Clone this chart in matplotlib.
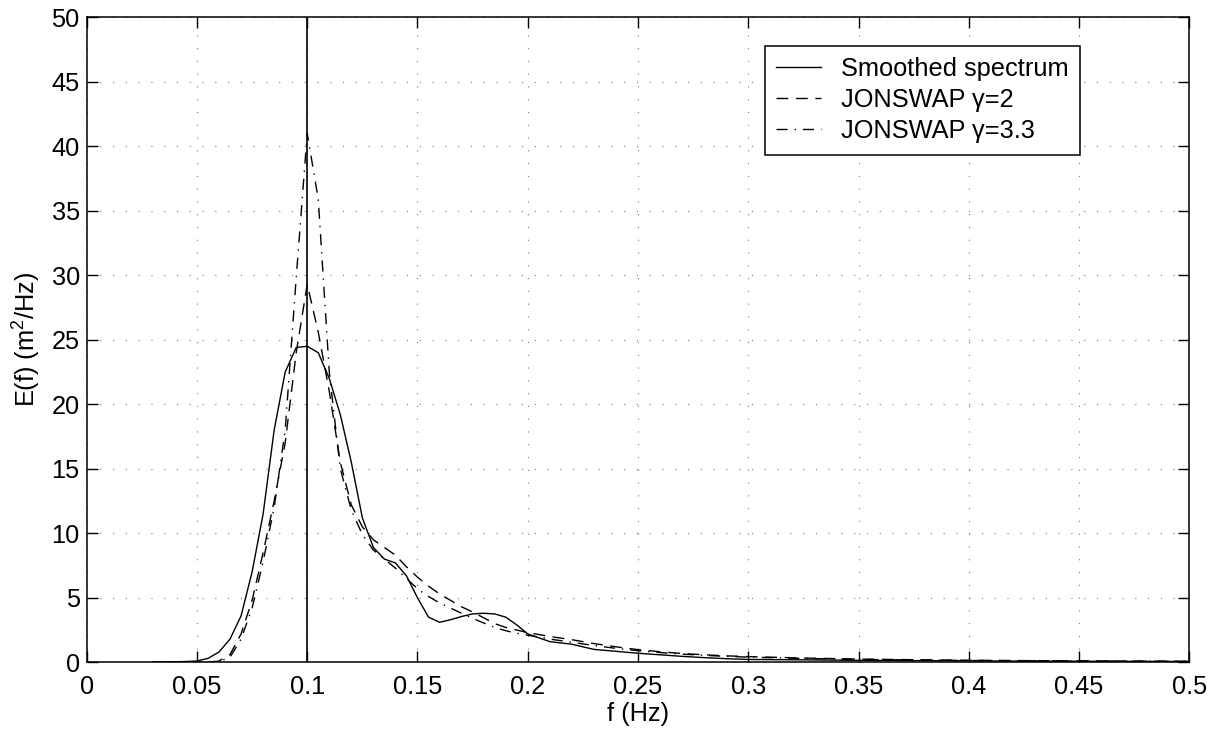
import matplotlib
matplotlib.use("Agg")
import matplotlib.pyplot as plt

# frequency grid (Hz)
freqs = [0.03, 0.035, 0.04, 0.045, 0.05, 0.055, 0.06, 0.065, 0.07, 0.075,
         0.08, 0.085, 0.09, 0.095, 0.1, 0.105, 0.11, 0.115, 0.12, 0.125,
         0.13, 0.135, 0.14, 0.145, 0.15, 0.155, 0.16, 0.165, 0.17, 0.175,
         0.18, 0.185, 0.19, 0.195, 0.2, 0.21, 0.22, 0.23, 0.24, 0.25,
         0.26, 0.27, 0.28, 0.29, 0.3, 0.325, 0.35, 0.375, 0.4, 0.425,
         0.45, 0.475, 0.5]

# smoothed measured spectrum (m^2/Hz)
smoothed = [0.02, 0.03, 0.04, 0.06, 0.1, 0.3, 0.8, 1.8, 3.6, 7.0,
            11.5, 18.0, 22.5, 24.4, 24.5, 24.0, 22.0, 19.2, 15.5, 11.2,
            8.9, 8.0, 7.7, 6.7, 5.0, 3.5, 3.1, 3.3, 3.55, 3.75,
            3.8, 3.75, 3.5, 2.9, 2.2, 1.6, 1.4, 1.0, 0.85, 0.7,
            0.58, 0.46, 0.36, 0.28, 0.22, 0.19, 0.15, 0.13, 0.11, 0.09,
            0.08, 0.07, 0.06]

# JONSWAP gamma = 2
jonswap_g2 = [0.0, 0.0, 0.0, 0.0, 0.0, 0.01, 0.1, 0.6, 2.2, 4.8,
              8.5, 12.5, 17.0, 24.0, 29.3, 25.6, 21.0, 15.5, 12.2, 10.5,
              9.5, 8.9, 8.3, 7.4, 6.6, 5.9, 5.3, 4.8, 4.3, 3.9,
              3.45, 3.0, 2.7, 2.5, 2.3, 2.0, 1.75, 1.45, 1.2, 0.98,
              0.82, 0.68, 0.58, 0.5, 0.44, 0.33, 0.25, 0.2, 0.16, 0.13,
              0.11, 0.09, 0.08]

# JONSWAP gamma = 3.3
jonswap_g33 = [0.0, 0.0, 0.0, 0.0, 0.0, 0.005, 0.05, 0.4, 1.8, 4.2,
               7.8, 12.0, 18.0, 29.8, 41.0, 35.9, 22.5, 15.0, 11.8, 9.9,
               8.7, 8.0, 7.3, 6.5, 5.7, 5.1, 4.6, 4.2, 3.8, 3.4,
               3.05, 2.7, 2.45, 2.25, 2.1, 1.8, 1.55, 1.3, 1.08, 0.9,
               0.75, 0.63, 0.54, 0.46, 0.4, 0.3, 0.22, 0.18, 0.14, 0.12,
               0.1, 0.08, 0.07]

peak_freq = 0.1
xticks = [0, 0.05, 0.1, 0.15, 0.2, 0.25, 0.3, 0.35, 0.4, 0.45, 0.5]
xticklabels = ["0", "0.05", "0.1", "0.15", "0.2", "0.25", "0.3", "0.35", "0.4", "0.45", "0.5"]
yticks = [0, 5, 10, 15, 20, 25, 30, 35, 40, 45, 50]


def plot_spectra():
    plt.rcParams["font.family"] = ["Liberation Sans", "DejaVu Sans"]
    plt.rcParams["font.size"] = 18.3
    plt.rcParams["mathtext.fontset"] = "custom"
    plt.rcParams["mathtext.rm"] = "Liberation Sans"

    fig = plt.figure(figsize=(12.11, 7.31), dpi=100)
    ax = fig.add_axes([0.0716, 0.094, 0.9105, 0.8823])

    ax.plot(freqs, smoothed, color="black", lw=1.0, ls="-",
            label="Smoothed spectrum")
    ax.plot(freqs, jonswap_g2, color="black", lw=1.0, ls=(0, (8.5, 5.5)),
            label="JONSWAP \u03b3=2")
    ax.plot(freqs, jonswap_g33, color="black", lw=1.0, ls=(0, (8, 5, 1, 5)),
            label="JONSWAP \u03b3=3.3")
    ax.axvline(peak_freq, color="black", lw=1.2)

    ax.set_xlim(0, 0.5)
    ax.set_ylim(0, 50)
    ax.set_xticks(xticks)
    ax.set_xticklabels(xticklabels)
    ax.set_yticks(yticks)
    ax.grid(True, color="#777777", lw=0.8, ls=(0, (1, 10.5)))
    ax.tick_params(direction="in", length=8, width=1.0, top=True, right=True)
    ax.tick_params(axis="x", pad=9)
    ax.tick_params(axis="y", pad=5)
    for sp in ax.spines.values():
        sp.set_linewidth(1.1)

    ax.set_xlabel("f (Hz)", labelpad=2)
    ax.set_ylabel("E(f) (m$^2$/Hz)", labelpad=6)

    leg = ax.legend(loc="upper right", bbox_to_anchor=(0.901, 0.956),
                    fancybox=False, framealpha=1, edgecolor="black",
                    handlelength=1.75, handletextpad=0.8, borderpad=0.45,
                    labelspacing=0.28, borderaxespad=0)
    leg.get_frame().set_linewidth(1.1)

    fig.savefig("out.png", dpi=100)


def main():
    plot_spectra()


if __name__ == "__main__":
    main()
